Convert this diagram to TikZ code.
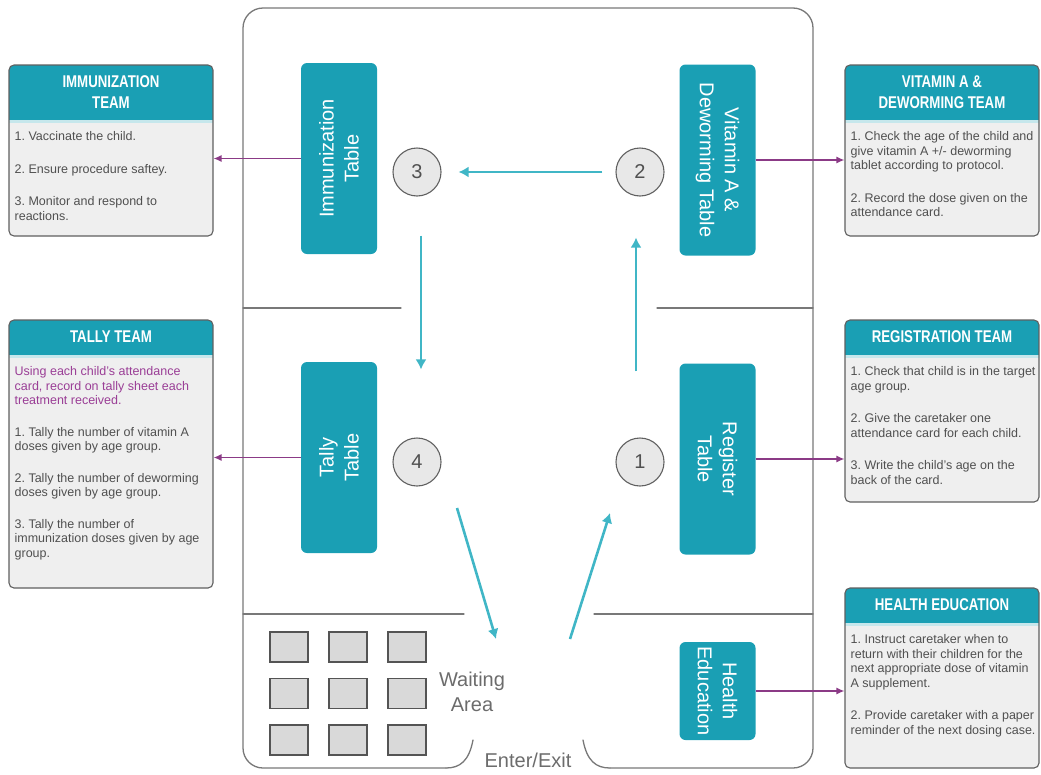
\documentclass[tikz,border=0pt]{standalone}
\usepackage{fontspec}
\setmainfont{Liberation Sans}
\newfontfamily\headfont[FakeStretch=0.78]{Liberation Sans}
\usetikzlibrary{positioning, arrows.meta}
\frenchspacing

\definecolor{deskteal}{HTML}{1A9FB4}
\definecolor{flowteal}{HTML}{40B6C6}
\definecolor{linkpurple}{HTML}{8B3A86}
\definecolor{notepurple}{HTML}{9A3E96}
\definecolor{wallgray}{HTML}{787878}
\definecolor{boxgray}{HTML}{EFEFEF}
\definecolor{chairgray}{HTML}{D9D9D9}
\definecolor{textgray}{HTML}{505050}

\tikzset{
        wall/.style={draw=wallgray, line width=1.3pt, line cap=round},
        desk/.style={fill=deskteal, rounded corners=6pt, text=white, align=center,
                inner sep=0pt, font=\fontsize{20}{25}\selectfont},
        station/.style={circle, draw=wallgray!80!black, fill=gray!18, line width=1.1pt, minimum size=48pt,
                inner sep=0pt, text=textgray, font=\fontsize{20}{20}\selectfont},
        flow/.style={draw=flowteal, line width=2.6pt, -{Latex[length=10pt,width=11pt]}},
        link/.style={draw=linkpurple, line width=1.4pt, -{Latex[length=8pt,width=7pt]}},
        teambox/.style={draw=wallgray!80!black, fill=boxgray, line width=1.1pt, rounded corners=5pt, inner sep=0pt,
                path picture={
                        \fill[deskteal, sharp corners] (path picture bounding box.north west)
                                rectangle ([yshift=-#1]path picture bounding box.north east);
                        \fill[deskteal!25, sharp corners] ([yshift=-#1]path picture bounding box.north west)
                                rectangle ([yshift=-#1-3pt]path picture bounding box.north east);}},
        teamhead/.style={text=white, align=center, inner sep=0pt,
                font=\headfont\bfseries\fontsize{17}{21}\selectfont},
        teamtext/.style={text=textgray, align=left, inner sep=0pt, font=\fontsize{12.5}{14.5}\selectfont},
        chair/.style={draw=wallgray!70!black, fill=chairgray, line width=1.4pt,
                minimum width=38pt, minimum height=30pt, inner sep=0pt},
        roomtext/.style={text=wallgray!90!black, align=center, inner sep=0pt, font=\fontsize{20}{25}\selectfont}
}

\begin{document}
\begin{tikzpicture}[x=1pt, y=-1pt]
        \useasboundingbox (0,0) rectangle (1041,774);

        % the room
        \draw[wall, rounded corners=20pt] (446,768) -- (243,768) -- (243,8) -- (813,8) -- (813,768) -- (610,768);
        \draw[wall] (473,740) .. controls (469,761) and (460,768) .. (446,768);
        \draw[wall] (583,740) .. controls (587,761) and (596,768) .. (610,768);
        \draw[wall] (243,308) -- (401,308) (657,308) -- (813,308)
                (243,614) -- (464,614) (594,614) -- (813,614);

        % tables (rotated, so .north is the side facing the team box)
        \node[desk, rotate=90, minimum width=191pt, minimum height=76pt] (immdesk) at (339,158.5) {Immunization\\Table};
        \node[desk, rotate=-90, minimum width=191pt, minimum height=76pt] (vitdesk) at (717.5,160) {Vitamin A \&\\Deworming Table};
        \node[desk, rotate=90, minimum width=191pt, minimum height=76pt] (tallydesk) at (339,457.5) {Tally\\Table};
        \node[desk, rotate=-90, minimum width=191pt, minimum height=76pt] (regdesk) at (717.5,459) {Register\\Table};
        \node[desk, rotate=-90, minimum width=98pt, minimum height=76pt] (healthdesk) at (717.5,691) {Health\\Education};

        \node[station] (s3) at (417,172) {3};
        \node[station] (s2) at (640,172) {2};
        \node[station] (s4) at (417,462) {4};
        \node[station] (s1) at (640,462) {1};

        % waiting area
        \foreach \c in {0,1,2}
                \foreach \r in {0,1,2}
                        \node[chair] (chair\c\r) at (289+59*\c, 647+46.5*\r) {};
        \node[roomtext] (waiting) at (472,692) {Waiting\\Area};
        \node[roomtext] (doorlabel) at (528,760) {Enter/Exit};
        \coordinate (door) at (533,639);

        \draw[flow] ([xshift=-13pt]s2.west) -- ([xshift=17pt]s3.east);
        \draw[flow] ([xshift=4pt, yshift=-39pt]s3.south) -- ([xshift=4pt, yshift=68pt]s4.north);
        \draw[flow] ([shift={(40,46)}]s4.center) -- ([xshift=-37pt]door);
        \draw[flow] ([xshift=37pt]door) -- ([shift={(-30,51)}]s1.center);
        \draw[flow] ([xshift=-4pt, yshift=66pt]s1.north) -- ([xshift=-4pt, yshift=-41pt]s2.south);

        % team boxes
        \node[teambox=55pt, minimum width=204pt, minimum height=171pt] (imm) at (111,150.5) {};
        \node[teamhead] (immhead) at ([yshift=-27.5pt]imm.north) {IMMUNIZATION\\TEAM};
        \node[teamtext, below right=67pt and 6pt of imm.north west] (immtext)
                {1. Vaccinate the child.\\[18pt]
                 2. Ensure procedure saftey.\\[18pt]
                 3. Monitor and respond to\\reactions.};

        \node[teambox=55pt, minimum width=194pt, minimum height=171pt] (vit) at (942,150.5) {};
        \node[teamhead] (vithead) at ([yshift=-27.5pt]vit.north) {VITAMIN A \&\\DEWORMING TEAM};
        \node[teamtext, below right=67pt and 6pt of vit.north west] (vittext)
                {1. Check the age of the child and\\give vitamin A +/- deworming\\tablet according to protocol.\\[18pt]
                 2. Record the dose given on the\\attendance card.};

        \node[teambox=35pt, minimum width=204pt, minimum height=268pt] (tally) at (111,454) {};
        \node[teamhead] (tallyhead) at ([yshift=-17.5pt]tally.north) {TALLY TEAM};
        \node[teamtext, below right=47pt and 6pt of tally.north west] (tallytext)
                {\color{notepurple}Using each child's attendance\\
                 \color{notepurple}card, record on tally sheet each\\
                 \color{notepurple}treatment received.\\[17pt]
                 1. Tally the number of vitamin A\\doses given by age group.\\[17pt]
                 2. Tally the number of deworming\\doses given by age group.\\[17pt]
                 3. Tally the number of\\immunization doses given by age\\group.};

        \node[teambox=35pt, minimum width=194pt, minimum height=182pt] (reg) at (942,411) {};
        \node[teamhead] (reghead) at ([yshift=-17.5pt]reg.north) {REGISTRATION TEAM};
        \node[teamtext, below right=47pt and 6pt of reg.north west] (regtext)
                {1. Check that child is in the target\\age group.\\[18pt]
                 2. Give the caretaker one\\attendance card for each child.\\[18pt]
                 3. Write the child's age on the\\back of the card.};

        \node[teambox=35pt, minimum width=194pt, minimum height=180pt] (health) at (942,678) {};
        \node[teamhead] (healthhead) at ([yshift=-17.5pt]health.north) {HEALTH EDUCATION};
        \node[teamtext, below right=47pt and 6pt of health.north west] (healthtext)
                {1. Instruct caretaker when to\\return with their children for the\\next appropriate dose of vitamin\\A supplement.\\[18pt]
                 2. Provide caretaker with a paper\\reminder of the next dosing case.};

        \draw[link] (immdesk.north) -- (immdesk.north -| imm.east);
        \draw[link] (vitdesk.north) -- (vitdesk.north -| vit.west);
        \draw[link] (tallydesk.north) -- (tallydesk.north -| tally.east);
        \draw[link] (regdesk.north) -- (regdesk.north -| reg.west);
        \draw[link] (healthdesk.north) -- (healthdesk.north -| health.west);
\end{tikzpicture}
\end{document}
